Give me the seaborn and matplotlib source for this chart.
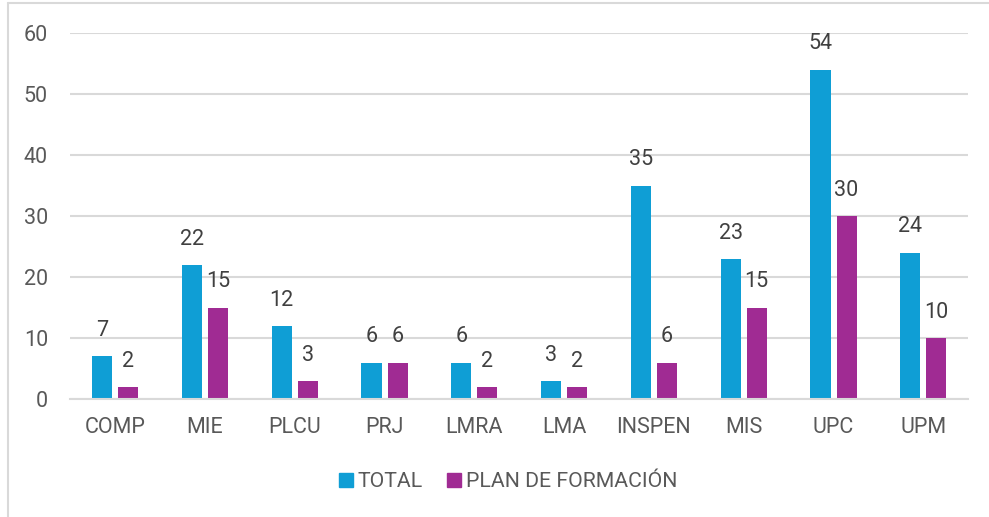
import matplotlib
matplotlib.use("Agg")
import matplotlib.pyplot as plt
import seaborn as sns
import pandas as pd
from matplotlib.lines import Line2D

categories = ["COMP", "MIE", "PLCU", "PRJ", "LMRA", "LMA", "INSPEN", "MIS", "UPC", "UPM"]
total = [7, 22, 12, 6, 6, 3, 35, 23, 54, 24]
plan_formacion = [2, 15, 3, 6, 2, 2, 6, 15, 30, 10]
series_names = ["TOTAL", "PLAN DE FORMACIÓN"]
colors = ["#0F9ED5", "#A02B93"]
yticks = [0, 10, 20, 30, 40, 50, 60]

df = pd.DataFrame({
    "cat": categories * 2,
    "serie": [series_names[0]] * len(categories) + [series_names[1]] * len(categories),
    "valor": total + plan_formacion,
})

sns.set_theme(style="white")
plt.rcParams["font.family"] = ["Roboto", "DejaVu Sans"]
text_color = "#595959"
grid_color = "#D9D9D9"

fig = plt.figure(figsize=(9.89, 5.17), dpi=100)
ax = fig.add_axes([0.071, 0.228, 0.908, 0.708])

sns.barplot(data=df, x="cat", y="valor", hue="serie", order=categories,
            hue_order=series_names, palette=colors, width=0.58, gap=0.23,
            saturation=1, linewidth=0, ax=ax, legend=False)

for cont in ax.containers:
    ax.bar_label(cont, padding=11, fontsize=15.5, color="#404040")

ax.set_xlim(-0.5, len(categories) - 0.5)
ax.set_ylim(0, 60)
ax.set_yticks(yticks)
ax.set_yticklabels([str(t) for t in yticks])
ax.yaxis.grid(True, color=grid_color, linewidth=1.5)
ax.set_axisbelow(True)
for s in ["left", "right", "top"]:
    ax.spines[s].set_visible(False)
ax.spines["bottom"].set_color(grid_color)
ax.spines["bottom"].set_linewidth(1.5)
ax.tick_params(axis="both", length=0, labelsize=15.5, labelcolor=text_color)
ax.tick_params(axis="y", pad=16)
ax.tick_params(axis="x", pad=13)
ax.set_xlabel("")
ax.set_ylabel("")

handles = [Line2D([0], [0], marker="s", linestyle="", markersize=10.5,
                  markerfacecolor=c, markeredgecolor=c) for c in colors]
fig.legend(handles, series_names, loc="center", bbox_to_anchor=(0.512, 0.068),
           ncol=2, frameon=False, fontsize=15.3, labelcolor=text_color,
           handletextpad=0.05, columnspacing=0.95, handlelength=1.0)

# chart frame on the left and top edges
fig.add_artist(Line2D([0.0085, 0.0085], [0, 0.994], transform=fig.transFigure,
                      color=grid_color, linewidth=1.5))
fig.add_artist(Line2D([0.0085, 1.0], [0.994, 0.994], transform=fig.transFigure,
                      color=grid_color, linewidth=1.5))

fig.savefig("out.png", dpi=100)
